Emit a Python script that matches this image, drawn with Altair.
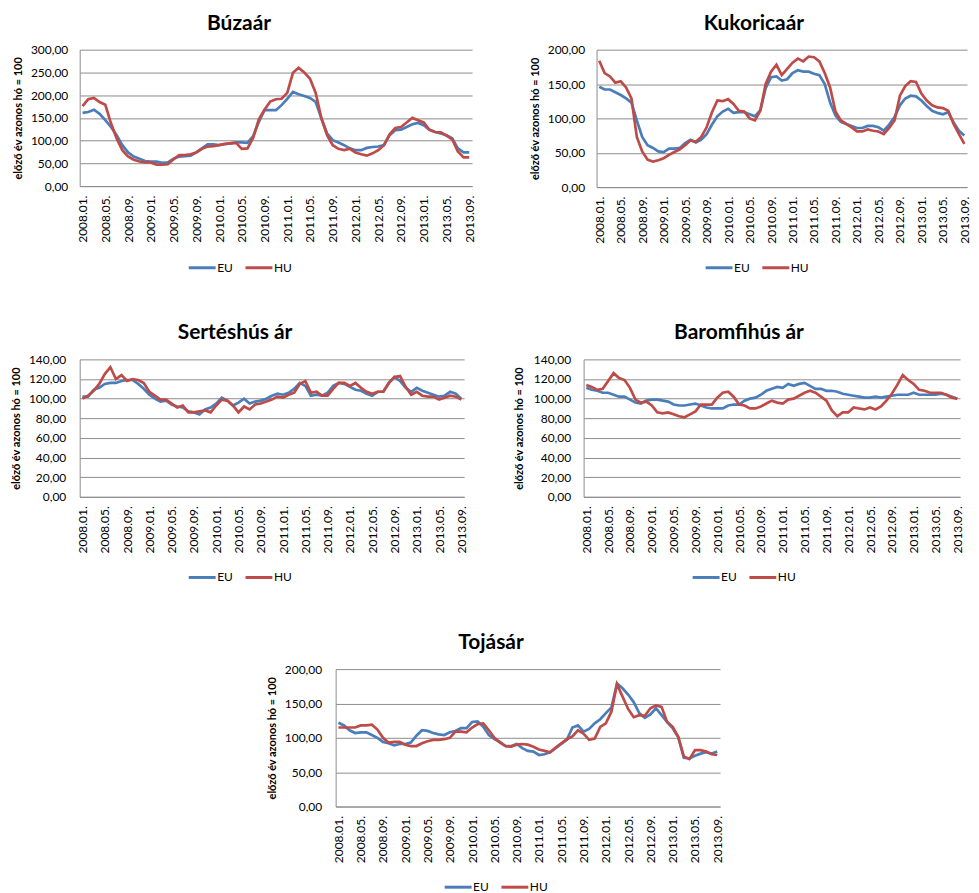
import altair as alt
import pandas as pd

# ---- categories ----
months = [f"{y}.{m:02d}." for y in range(2008, 2014) for m in range(1, 13)][:69]
tick_labels = months[::4]

# ---- series values ----
buza_eu = [161, 163, 168, 159, 145, 130, 112, 90, 74, 65,
           60, 55, 54, 54, 51, 52, 60, 65, 66, 67,
           74, 83, 92, 92, 90, 92, 94, 96, 96, 95,
           110, 141, 167, 167, 167, 178, 192, 207, 202, 198,
           194, 185, 149, 116, 101, 96, 90, 83, 79, 79,
           84, 86, 87, 90, 112, 123, 124, 130, 136, 139,
           134, 124, 119, 116, 112, 105, 83, 74, 74]
buza_hu = [176, 191, 194, 185, 179, 138, 105, 79, 65, 58,
           54, 52, 52, 47, 47, 48, 59, 68, 68, 70,
           74, 82, 87, 88, 90, 93, 94, 95, 82, 83,
           106, 147, 168, 186, 191, 192, 205, 249, 260, 250,
           236, 205, 149, 112, 90, 82, 79, 82, 74, 70,
           67, 72, 79, 90, 114, 128, 130, 140, 150, 145,
           140, 124, 119, 118, 111, 103, 76, 63, 63]

kuko_eu = [146, 142, 142, 138, 134, 129, 123, 97, 73, 61,
           57, 52, 51, 56, 56, 57, 64, 69, 65, 69,
           77, 91, 103, 110, 114, 108, 109, 109, 106, 103,
           112, 144, 160, 161, 155, 157, 166, 170, 168, 168,
           165, 163, 150, 123, 104, 95, 92, 89, 86, 86,
           89, 89, 87, 82, 91, 102, 119, 129, 133, 132,
           126, 118, 111, 108, 106, 109, 94, 82, 75]
kuko_hu = [184, 166, 161, 152, 154, 145, 129, 73, 52, 40,
           37, 39, 42, 47, 51, 55, 61, 68, 66, 73,
           87, 109, 126, 125, 128, 121, 111, 110, 100, 97,
           111, 150, 168, 178, 163, 172, 181, 187, 183, 190,
           189, 183, 166, 145, 110, 97, 92, 87, 81, 81,
           84, 82, 81, 77, 86, 97, 133, 147, 154, 153,
           136, 126, 119, 116, 115, 111, 92, 77, 63]

sertes_eu = [102, 102, 109, 111, 115, 116, 116, 118, 119, 119,
             115, 110, 104, 100, 97, 98, 94, 92, 91, 87,
             86, 84, 89, 91, 95, 101, 98, 93, 96, 100,
             95, 97, 98, 100, 103, 105, 104, 106, 110, 116,
             113, 103, 104, 103, 106, 113, 116, 115, 112, 109,
             108, 105, 103, 107, 107, 116, 122, 118, 111, 107,
             111, 108, 106, 104, 102, 103, 107, 105, 100]
sertes_hu = [100, 103, 108, 115, 125, 132, 120, 124, 118, 120,
             119, 116, 107, 103, 99, 99, 95, 91, 93, 86,
             86, 87, 88, 86, 93, 99, 98, 93, 86, 92,
             89, 94, 95, 97, 99, 102, 101, 104, 106, 115,
             118, 106, 107, 103, 103, 110, 116, 116, 113, 116,
             111, 107, 105, 107, 107, 116, 122, 123, 112, 104,
             107, 103, 102, 102, 99, 101, 103, 102, 99]

baromfi_eu = [111, 109, 108, 106, 106, 104, 102, 102, 99, 96,
              95, 98, 99, 99, 98, 97, 94, 93, 93, 94,
              95, 93, 91, 90, 90, 90, 93, 94, 94, 98,
              100, 101, 104, 108, 110, 112, 111, 115, 113, 115,
              116, 113, 110, 110, 108, 108, 107, 105, 104, 103,
              102, 101, 101, 102, 101, 102, 103, 104, 104, 104,
              106, 104, 104, 104, 104, 105, 104, 102, 100]
baromfi_hu = [114, 112, 109, 110, 118, 126, 121, 119, 111, 99,
              96, 97, 93, 86, 85, 86, 84, 82, 81, 84,
              87, 94, 94, 94, 101, 106, 107, 102, 94, 93,
              90, 90, 92, 95, 98, 96, 95, 99, 100, 103,
              106, 108, 106, 102, 98, 88, 82, 86, 86, 91,
              90, 89, 91, 89, 92, 98, 105, 114, 124, 119,
              115, 109, 108, 106, 106, 106, 104, 101, 100]

tojas_eu = [122, 118, 111, 107, 108, 108, 104, 100, 94, 92,
            89, 91, 91, 93, 103, 111, 110, 107, 105, 104,
            108, 110, 114, 114, 123, 124, 116, 104, 98, 94,
            88, 88, 91, 85, 81, 80, 75, 76, 79, 85,
            91, 97, 115, 118, 109, 113, 121, 127, 136, 144,
            179, 172, 163, 152, 136, 129, 134, 143, 133, 123,
            114, 101, 71, 70, 74, 77, 79, 77, 80]
tojas_hu = [115, 115, 115, 115, 118, 118, 119, 112, 100, 93,
            94, 94, 90, 88, 88, 92, 95, 97, 97, 98,
            100, 109, 109, 108, 115, 120, 121, 111, 100, 93,
            88, 87, 90, 91, 90, 87, 83, 81, 79, 86,
            92, 98, 102, 111, 106, 97, 99, 116, 121, 138,
            178, 160, 142, 130, 133, 132, 143, 147, 145, 123,
            116, 101, 73, 69, 82, 82, 80, 76, 75]

series_names = ["EU", "HU"]
FONT = "Lato"
BLUE = "#4A7EBB"
RED = "#BE4B48"
GRID = "#8C8C8C"
Y_TITLE = "előző év azonos hó = 100"


def panel(title, eu, hu, ymax, ystep, w, h, title_dx, label_pad, title_pad=7):
    df = pd.DataFrame({
        "honap": months + months,
        "sorozat": [series_names[0]] * len(months) + [series_names[1]] * len(months),
        "ertek": eu + hu,
    })
    return alt.Chart(
        df,
        title=alt.TitleParams(text=title, fontSize=21, font=FONT, fontWeight="bold",
                              color="black", anchor="middle", frame="group",
                              dx=title_dx, offset=10),
    ).mark_line(strokeWidth=2.7).encode(
        x=alt.X("honap:O", title=None,
                scale=alt.Scale(type="point", padding=0.5),
                axis=alt.Axis(values=tick_labels, labelAngle=-90, grid=False,
                              ticks=False, domainColor=GRID, labelFont=FONT,
                              labelFontSize=12, labelColor="black", labelPadding=9)),
        y=alt.Y("ertek:Q", title=Y_TITLE,
                scale=alt.Scale(domain=[0, ymax], nice=False),
                axis=alt.Axis(values=list(range(0, ymax + 1, ystep)),
                              labelExpr="replace(format(datum.value, '.2f'), '.', ',')",
                              grid=True, gridColor=GRID, domainColor=GRID,
                              ticks=False, labelPadding=label_pad, labelFont=FONT,
                              labelFontSize=12, labelColor="black",
                              titleFont=FONT, titleFontSize=11,
                              titleFontWeight="bold", titleColor="black",
                              titlePadding=title_pad)),
        color=alt.Color("sorozat:N", title=None,
                        scale=alt.Scale(domain=series_names, range=[BLUE, RED]),
                        legend=alt.Legend(orient="none", legendX=108, legendY=204,
                                          direction="horizontal",
                                          symbolType="stroke", symbolStrokeWidth=3,
                                          symbolSize=729, labelFont=FONT,
                                          labelFontSize=12, labelColor="black",
                                          columnPadding=6, labelOffset=0)),
    ).properties(width=w, height=h)


buza = panel("Búzaár", buza_eu, buza_hu, 300, 50, 394, 137, -37, 12)
kuko = panel("Kukoricaár", kuko_eu, kuko_hu, 200, 50, 372, 138, -28, 12)
sertes = panel("Sertéshús ár", sertes_eu, sertes_hu, 140, 20, 386, 138, -37, 14)
baromfi = panel("Baromfihús ár", baromfi_eu, baromfi_hu, 140, 20, 378, 138, -33, 13, 9)
tojas = panel("Tojásár", tojas_eu, tojas_hu, 200, 50, 386, 138, -37, 14)

spacer = alt.Chart(pd.DataFrame({"a": [0]})).mark_text(text=" ").encode(
    x=alt.value(0), y=alt.value(0)
).properties(width=177, height=20)

row1 = alt.hconcat(buza, kuko, spacing=53).resolve_scale(color="independent").resolve_legend(color="independent")
row2 = alt.hconcat(sertes, baromfi, spacing=45).resolve_scale(color="independent").resolve_legend(color="independent")
row3 = alt.hconcat(spacer, tojas, spacing=10).resolve_scale(color="independent").resolve_legend(color="independent")

chart = alt.vconcat(row1, row2, row3, spacing=49).resolve_scale(
    color="independent"
).resolve_legend(color="independent").configure_view(stroke=None).properties(
    padding={"left": 2, "top": 3, "right": 0, "bottom": 0},
    background="white",
)

chart.save("out.html", embed_options={"renderer": "svg", "actions": False})
